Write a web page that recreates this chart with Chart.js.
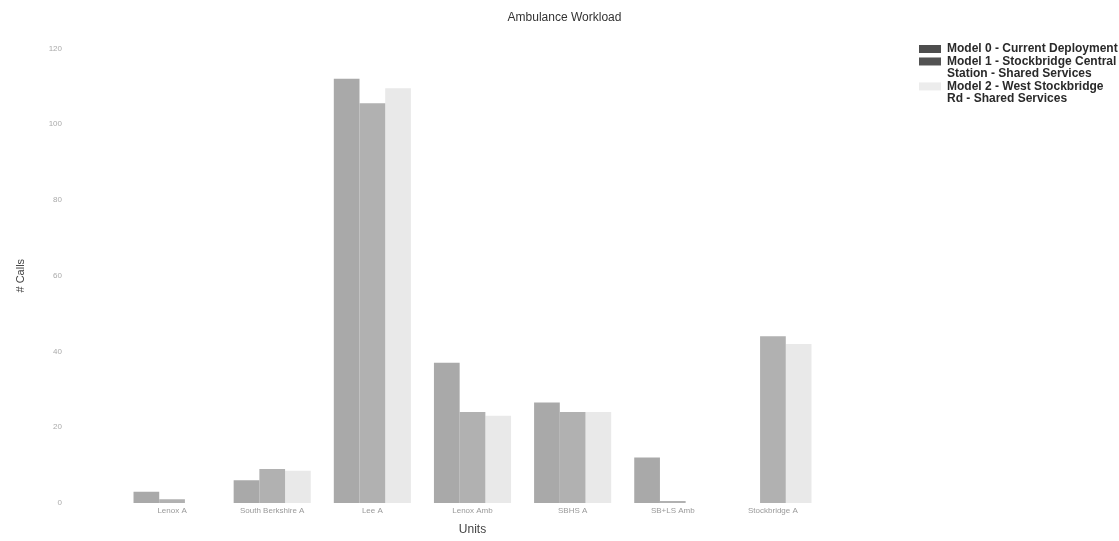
<!DOCTYPE html>
<html>
<head>
<meta charset="utf-8">
<script src="https://cdn.jsdelivr.net/npm/chart.js@4"></script>
<style>
  html, body { margin: 0; padding: 0; background: #fff; }
  #wrap { width: 1119px; height: 541px; }
</style>
</head>
<body>
<div id="wrap"><canvas id="graphWorkload"></canvas></div>
<script>
// units along the x axis
let units = ["Lenox A", "South Berkshire A", "Lee A", "Lenox Amb", "SBHS A", "SB+LS Amb", "Stockbridge A"];
// calls per unit for each model
let model0 = [3, 6, 112, 37, 26.5, 12, 0];
let model1 = [1, 9, 105.5, 24, 24, 0.5, 44];
let model2 = [0, 8.5, 109.5, 23, 24, 0, 42];
let modelNames = [
    ["Model 0 - Current Deployment"],
    ["Model 1 - Stockbridge Central", "Station - Shared Services"],
    ["Model 2 - West Stockbridge", "Rd - Shared Services"]
];
let yTicks = [0, 20, 40, 60, 80, 100, 120];

let barColors = ["#a9a9a9", "#b1b1b1", "#e9e9e9"];
let legendColors = ["#4d4d4d", "#525252", "#ececec"];

Chart.defaults.font.family = "'Liberation Sans', Arial, sans-serif";

let myCanvas = document.getElementById("graphWorkload").getContext('2d');
let graph = new Chart(myCanvas, {
    type: "bar",
    data: {
        labels: units,
        datasets: [model0, model1, model2].map((vals, i) => ({
            label: modelNames[i].join(" "),
            data: vals,
            backgroundColor: barColors[i],
            borderWidth: 0,
            barPercentage: 1,
            categoryPercentage: 0.77
        }))
    },
    options: {
        responsive: true,
        maintainAspectRatio: false,
        animation: false,
        layout: { padding: { left: 10, bottom: 0, right: 0 } },
        plugins: {
            title: {
                display: true,
                text: "Ambulance Workload",
                color: "#333",
                font: { size: 12, weight: "normal" },
                padding: { top: 10, bottom: 24 }
            },
            legend: {
                position: "right",
                align: "start",
                maxWidth: 200,
                title: {
                    // empty title only to push the items down to the plot top
                    display: true,
                    text: "",
                    font: { size: 1, lineHeight: 1 },
                    padding: { top: 42, bottom: 0 }
                },
                labels: {
                    boxWidth: 22,
                    boxHeight: 8,
                    padding: 0,
                    color: "#2a2a2a",
                    font: { size: 12, weight: "bold", lineHeight: 1.04 },
                    generateLabels: function(chart){
                        return chart.data.datasets.map((ds, i) => ({
                            text: modelNames[i],
                            fillStyle: legendColors[i],
                            strokeStyle: legendColors[i],
                            fontColor: "#2a2a2a",
                            lineWidth: 0,
                            hidden: false,
                            datasetIndex: i
                        }));
                    }
                }
            },
            tooltip: { enabled: false }
        },
        scales: {
            x: {
                grid: { display: false, drawTicks: false },
                border: { display: false },
                ticks: { color: "#999", font: { size: 8 }, padding: 3, maxRotation: 0 },
                title: { display: true, text: "Units", color: "#444", font: { size: 12 } }
            },
            y: {
                min: 0,
                max: 120,
                afterBuildTicks: function(scale){
                    scale.ticks = yTicks.map(v => ({ value: v }));
                },
                afterFit: function(scale){ scale.width = 112; },
                grid: { display: false, drawTicks: true, tickLength: 60 },
                border: { display: false },
                ticks: { color: "#aaa", font: { size: 8 }, padding: 0 },
                title: { display: true, text: "# Calls", color: "#444", font: { size: 11 } }
            },
            spacer: {
                position: "right",
                display: true,
                afterFit: function(scale){ scale.width = 96; },
                grid: { display: false, drawTicks: false },
                border: { display: false },
                ticks: { display: false }
            }
        }
    }
});
</script>
</body>
</html>
